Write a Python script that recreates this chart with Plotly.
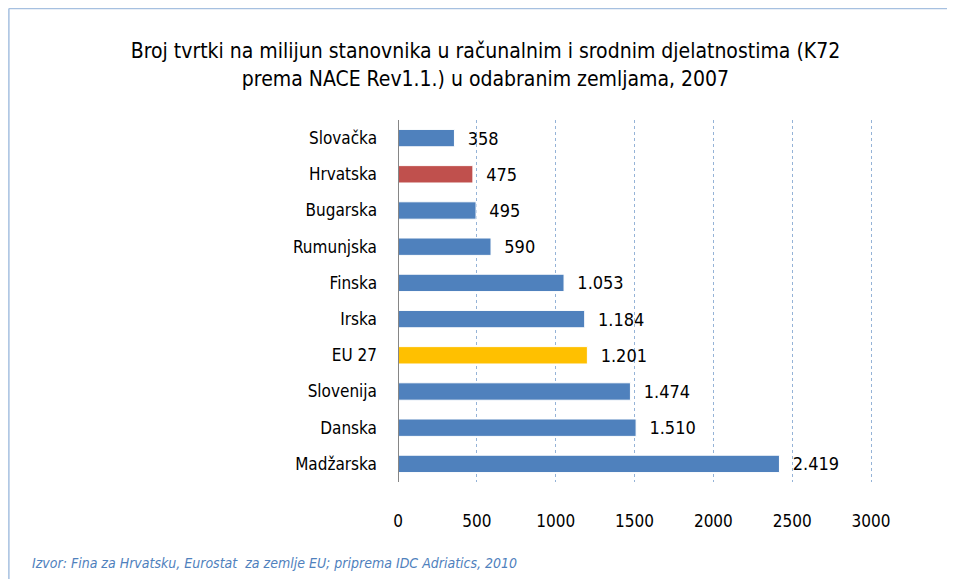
import plotly.graph_objects as go

countries = ["Slovačka", "Hrvatska", "Bugarska", "Rumunjska", "Finska", "Irska",
             "EU 27", "Slovenija", "Danska", "Madžarska"]
values = [358, 475, 495, 590, 1053, 1184, 1201, 1474, 1510, 2419]
bar_colors = ["#4f81bd", "#c0504d", "#4f81bd", "#4f81bd", "#4f81bd", "#4f81bd",
              "#ffc000", "#4f81bd", "#4f81bd", "#4f81bd"]
x_ticks = [0, 500, 1000, 1500, 2000, 2500, 3000]

title = ("Broj tvrtki na milijun stanovnika u računalnim i srodnim djelatnostima (K72<br>"
         "prema NACE Rev1.1.) u odabranim zemljama, 2007")
source = "Izvor: Fina za Hrvatsku, Eurostat  za zemlje EU; priprema IDC Adriatics, 2010"

FONT = "DejaVu Sans Condensed, Liberation Sans Narrow, Arial Narrow, sans-serif"

fig = go.Figure(go.Bar(
    x=values, y=countries, orientation="h",
    marker=dict(color=bar_colors, line=dict(color="white", width=1)),
    width=0.48,
    texttemplate="  %{x:,}", textposition="outside", cliponaxis=False,
    constraintext="none",
    textfont=dict(family=FONT, size=18, color="#000000"),
))

fig.update_layout(
    width=955, height=579,
    margin=dict(l=390, r=53, t=112, b=105, autoexpand=False),
    paper_bgcolor="white", plot_bgcolor="white",
    separators=",.",
    showlegend=False,
    font=dict(family=FONT, color="#000000"),
    title=dict(text=title, x=0.5, xanchor="center", y=0.913, yanchor="middle",
               font=dict(family=FONT, size=21, color="#000000")),
    xaxis=dict(range=[0, 3247], tickvals=x_ticks, ticktext=[str(v) for v in x_ticks],
               showgrid=True, gridcolor="#95b3d7", griddash="dot", gridwidth=1,
               zeroline=False, showline=False, ticks="", automargin=False,
               ticklabelstandoff=27,
               tickfont=dict(family=FONT, size=17, color="#000000")),
    yaxis=dict(autorange="reversed", showgrid=False, zeroline=False, automargin=False,
               showline=False, ticks="", ticklabelstandoff=20,
               tickfont=dict(family=FONT, size=17, color="#000000")),
    shapes=[
        dict(type="line", xref="x", yref="paper", x0=0, x1=0, y0=0, y1=1,
             line=dict(color="#868686", width=2)),
        dict(type="line", xref="paper", yref="paper", x0=-0.760, x1=1.11,
             y0=1.308, y1=1.308, line=dict(color="#a6c0e0", width=1.5)),
        dict(type="line", xref="paper", yref="paper", x0=-0.760, x1=-0.760,
             y0=-0.30, y1=1.308, line=dict(color="#a6c0e0", width=1.5)),
    ],
    annotations=[dict(text=source, xref="paper", yref="paper", x=-0.719, y=-0.224,
                      xanchor="left", yanchor="middle", showarrow=False,
                      font=dict(family=FONT, size=14, color="#4f81bd", style="italic"))],
)

fig.write_html("out.html")
